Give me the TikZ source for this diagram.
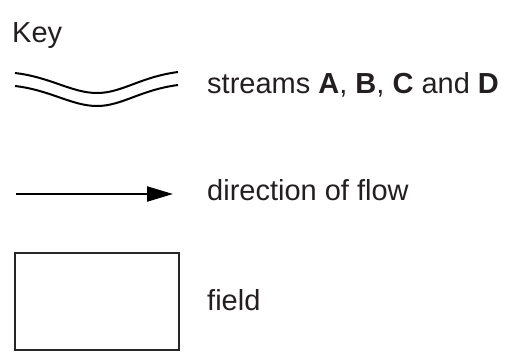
\documentclass[tikz,border=0pt]{standalone}
\usepackage{fontspec}
\setmainfont{Liberation Sans}
\usetikzlibrary{arrows.meta}
\definecolor{ink}{HTML}{231F20}
\tikzset{
  lbl/.style={anchor=base west, inner sep=0pt, text=ink, font=\fontsize{29}{35}\selectfont},
  streamline/.style={draw=black, line width=2pt},
  flowarrow/.style={draw=black, line width=2.2pt, -{Triangle[length=26pt,width=15pt]}},
  fieldbox/.style={draw=black!85, line width=2pt}
}
\begin{document}
\begin{tikzpicture}[x=1pt,y=-1pt]
\useasboundingbox (0,0) rectangle (510,360);
% Key title
\node[lbl] (key) at (12,42) {Key};
% streams symbol
\coordinate (s1a) at (15,73);
\coordinate (s1b) at (178,72);
\coordinate (s2a) at (15,86);
\coordinate (s2b) at (178,85);
\draw[streamline] (s1a) .. controls (50,77) and (72,93) .. (97,93) .. controls (122,93) and (140,77) .. (s1b);
\draw[streamline] (s2a) .. controls (50,90) and (72,106) .. (97,106) .. controls (122,106) and (140,90) .. (s2b);
\node[lbl] (streams) at (207,93) {streams \textbf{A}, \textbf{B}, \textbf{C} and \textbf{D}};
% flow arrow
\coordinate (fa) at (16,194);
\coordinate (fb) at (173,194);
\draw[flowarrow] (fa) -- (fb);
\node[lbl] (flow) at (207,200) {direction of flow};
% field
\node[fieldbox, minimum width=164pt, minimum height=97pt, anchor=north west, inner sep=0pt] (field) at (14,252) {};
\node[lbl] (fieldlbl) at (207,310) {field};
\end{tikzpicture}
\end{document}
